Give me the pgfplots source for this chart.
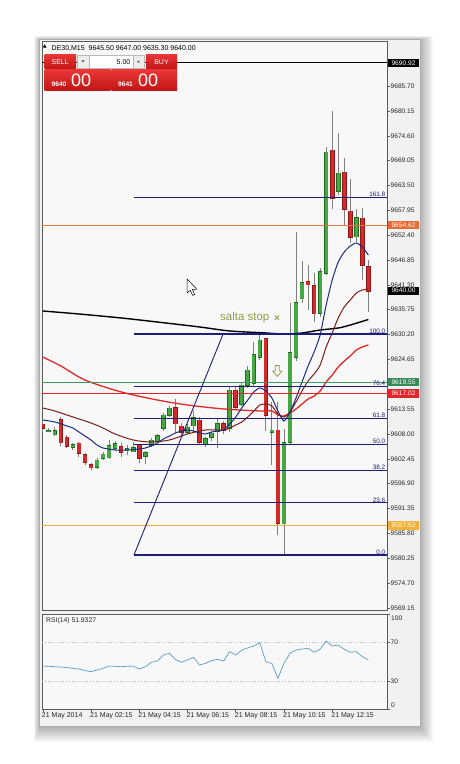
\documentclass[border=0pt]{standalone}
\usepackage{pgfplots}
\pgfplotsset{compat=1.18}
\usepackage{pgfplotstable}
\usepackage{fontspec}
\setmainfont{Liberation Sans}

\definecolor{chartbg}{HTML}{F8F8F8}
\definecolor{winbg}{HTML}{F1F1F1}
\definecolor{frame}{HTML}{5A5A5A}
\definecolor{upfill}{HTML}{45A845}
\definecolor{upedge}{HTML}{1E6B1E}
\definecolor{dnfill}{HTML}{D42A2A}
\definecolor{dnedge}{HTML}{8E1616}
\definecolor{wick}{HTML}{808080}
\definecolor{fastma}{HTML}{1C2B82}
\definecolor{midma}{HTML}{7E1C1C}
\definecolor{slowma}{HTML}{E02828}
\definecolor{fibnavy}{HTML}{1E1E78}
\definecolor{lvlorange}{HTML}{E2763A}
\definecolor{lvlgreen}{HTML}{3D9A62}
\definecolor{lvlred}{HTML}{E3242B}
\definecolor{lvlgold}{HTML}{F2B23A}
\definecolor{note}{HTML}{8E9E48}
\definecolor{rsiline}{HTML}{5B9BD0}
\definecolor{btntop}{HTML}{EA3636}
\definecolor{btnbot}{HTML}{C01616}

% DE30 M15 bars: index (0 = 02:15), open, high, low, close
\pgfplotstableread{
i o h l c
-8 9610.22 9611.11 9608.43 9609.32
-7 9608.65 9609.32 9608.43 9608.87
-6 9607.98 9609.55 9607.53 9608.87
-5 9611.33 9611.78 9605.30 9606.19
-4 9607.31 9607.76 9604.85 9605.30
-3 9605.08 9605.97 9604.40 9605.52
-2 9605.97 9606.42 9603.07 9603.73
-1 9603.29 9603.96 9601.28 9601.73
0 9601.28 9601.73 9600.16 9600.61
1 9600.61 9602.62 9600.16 9602.17
2 9602.62 9603.96 9602.17 9603.51
3 9602.84 9606.64 9602.40 9605.52
4 9604.85 9606.64 9604.40 9605.75
5 9605.08 9606.19 9603.07 9603.96
6 9604.40 9605.75 9603.51 9604.63
7 9604.18 9606.19 9603.96 9605.08
8 9605.52 9605.97 9601.73 9602.62
9 9603.07 9604.40 9601.50 9603.96
10 9605.52 9607.09 9605.08 9606.64
11 9606.42 9607.98 9605.97 9607.53
12 9609.32 9612.89 9608.87 9612.22
13 9612.22 9614.24 9611.78 9613.79
14 9614.01 9615.80 9608.20 9610.44
15 9609.77 9610.66 9607.76 9608.43
16 9608.43 9610.22 9607.98 9609.55
17 9609.99 9613.34 9608.43 9611.78
18 9611.11 9611.78 9605.75 9606.19
19 9605.75 9607.53 9605.30 9607.09
20 9607.31 9608.65 9606.64 9608.20
21 9608.65 9611.56 9604.85 9610.22
22 9610.44 9611.11 9608.20 9608.87
23 9609.32 9618.70 9608.43 9617.81
24 9617.81 9618.70 9613.34 9614.01
25 9614.68 9619.60 9614.24 9618.93
26 9618.93 9623.17 9618.26 9622.28
27 9619.37 9628.53 9618.70 9625.63
28 9625.18 9630.10 9624.51 9628.98
29 9629.20 9629.65 9608.87 9612.22
30 9608.43 9615.13 9601.05 9608.87
31 9608.87 9615.13 9585.42 9588.10
32 9588.10 9609.32 9580.95 9606.19
33 9606.19 9637.25 9605.52 9626.08
34 9625.18 9653.11 9624.51 9637.25
35 9638.37 9646.85 9637.47 9641.94
36 9642.16 9645.74 9635.68 9641.49
37 9641.27 9643.95 9632.99 9635.01
38 9635.01 9645.29 9634.34 9644.17
39 9643.95 9672.10 9643.50 9670.98
40 9671.43 9680.37 9658.47 9660.70
41 9662.27 9675.23 9661.37 9666.29
42 9666.51 9669.64 9654.45 9658.25
43 9657.80 9665.17 9650.87 9651.99
44 9652.21 9658.25 9650.87 9656.46
45 9656.24 9658.47 9642.38 9645.74
46 9645.50 9647.00 9635.30 9640.00
}\candles

% RSI(14)
\pgfplotstableread{
i v
-8 45.5
-7 45.2
-6 44.8
-5 44.5
-4 43.9
-3 43.1
-2 42.3
-1 40.9
0 39.6
1 41.4
2 43.1
3 45.5
4 45.2
5 44.8
6 45.2
7 45.5
8 42.4
9 44.8
10 49.4
11 50.8
12 57.0
13 58.8
14 52.5
15 49.4
16 51.9
17 54.6
18 46.6
19 48.3
20 51.2
21 52.5
22 50.8
23 60.6
24 57.0
25 62.3
26 64.5
27 66.5
28 70.0
29 50.1
30 48.3
31 32.6
32 48.3
33 58.8
34 62.3
35 63.3
36 64.1
37 59.9
38 63.3
39 71.7
40 66.5
41 67.5
42 63.0
43 59.9
44 60.6
45 55.3
46 51.93
}\rsi

\tikzset{
  pricebox/.style={anchor=west, text=white, font=\fontsize{6.6}{7}\selectfont,
    text height=4.9pt, text depth=0.3pt, inner xsep=2.2pt, inner ysep=1.5pt,
    minimum width=31pt, xshift=0.8pt},
  fiblabel/.style={anchor=south east, text=fibnavy, font=\fontsize{6.4}{7}\selectfont,
    inner sep=0.5pt, xshift=-1pt}
}
\pgfplotsset{
  candle/.style={draw=none, mark=none,
    error bars/y dir=both, error bars/y explicit, error bars/error mark=none}
}

\begin{document}
\begin{tikzpicture}
\useasboundingbox (0pt,0pt) rectangle (459pt,764pt);

% window with soft drop shadow
\begin{scope}[x=1pt,y=-1pt,shift={(0pt,764pt)}]
  \fill[white] (0,0) rectangle (459,764);
  \foreach \k in {1,...,10}{
    \fill[black,opacity=0.03,rounded corners=2pt] (40-0.6*\k,40-0.4*\k) rectangle (420+1.3*\k,727+1.5*\k);
  }
  \fill[winbg] (39.5,39.5) rectangle (420.5,726.5);
  \draw[gray!65,line width=0.6pt] (39.5,39.5) rectangle (420.5,726.5);
\end{scope}

% ---------------- price panel ----------------
\begin{axis}[
  at={(42pt,154pt)}, anchor=south west,
  width=345pt, height=569pt, scale only axis,
  xmin=-8.126, xmax=49.088, ymin=9568.66, ymax=9695.78,
  axis background/.style={fill=chartbg},
  axis line style={draw=frame, line width=0.7pt},
  xtick=\empty,
  ytick={9569.15,9574.70,9580.25,9585.80,9591.35,9596.90,9602.45,9608.00,9613.55,9619.10,9624.65,9630.20,9635.75,9641.30,9646.85,9652.40,9657.95,9663.50,9669.05,9674.60,9680.15,9685.70},
  yticklabels={9569.15,9574.70,9580.25,9585.80,9591.35,9596.90,9602.45,9608.00,9613.55,,9624.65,9630.20,9635.75,9641.30,9646.85,9652.40,9657.95,9663.50,9669.05,9674.60,9680.15,9685.70},
  ytick pos=right, yticklabel pos=right,
  tick align=outside, major tick length=2.5pt,
  tick style={draw=frame, line width=0.5pt},
  yticklabel style={font=\fontsize{6.6}{7}\selectfont, text=black!85, anchor=west, inner sep=0pt, xshift=1pt},
  clip mode=individual,
]
% wicks
\addplot[candle, error bars/error bar style={draw=wick, line width=0.9pt}]
  table[x=i, y expr={(\thisrow{h}+\thisrow{l})/2}, y error expr={(\thisrow{h}-\thisrow{l})/2}] {\candles};
% bullish bodies
\addplot[candle, restrict expr to domain={\thisrow{c}-\thisrow{o}}{0:1000},
  error bars/error bar style={draw=upedge, line width=4.6pt}]
  table[x=i, y expr={(\thisrow{o}+\thisrow{c})/2}, y error expr={abs(\thisrow{c}-\thisrow{o})/2+0.15}] {\candles};
\addplot[candle, restrict expr to domain={\thisrow{c}-\thisrow{o}}{0:1000},
  error bars/error bar style={draw=upfill, line width=3.2pt}]
  table[x=i, y expr={(\thisrow{o}+\thisrow{c})/2}, y error expr={abs(\thisrow{c}-\thisrow{o})/2}] {\candles};
% bearish bodies
\addplot[candle, restrict expr to domain={\thisrow{o}-\thisrow{c}}{0.001:1000},
  error bars/error bar style={draw=dnedge, line width=4.6pt}]
  table[x=i, y expr={(\thisrow{o}+\thisrow{c})/2}, y error expr={abs(\thisrow{c}-\thisrow{o})/2+0.15}] {\candles};
\addplot[candle, restrict expr to domain={\thisrow{o}-\thisrow{c}}{0.001:1000},
  error bars/error bar style={draw=dnfill, line width=3.2pt}]
  table[x=i, y expr={(\thisrow{o}+\thisrow{c})/2}, y error expr={abs(\thisrow{c}-\thisrow{o})/2}] {\candles};

% moving averages
\addplot[black, line width=1.4pt, smooth, tension=0.5] coordinates {
(-8,9635.46) (-2,9634.79) (5,9633.90) (11,9633.00) (18,9631.89) (23,9631.00) (29,9630.55)
(32,9630.32) (35,9630.55) (38,9631.21) (41,9631.66) (43,9632.33) (46,9633.56)};
\addplot[slowma, line width=1.3pt, smooth, tension=0.5] coordinates {
(-8,9625.18) (-5,9623.17) (-1,9620.04) (5,9617.37) (11,9615.58) (16,9614.46) (22,9613.57)
(28,9613.12) (30,9613.12) (31,9612.22) (32,9612.00) (33,9612.67) (34,9613.57) (35,9614.68)
(36,9615.80) (37,9616.47) (38,9617.59) (39,9619.60) (40,9621.16) (41,9622.95) (42,9624.29)
(43,9625.41) (44,9626.75) (45,9627.42) (46,9627.87)};
\addplot[midma, line width=1pt, smooth, tension=0.5] coordinates {
(-8,9613.79) (-6,9613.12) (-3,9611.78) (0,9610.44) (2,9609.32) (4,9607.98) (7,9606.64)
(10,9606.19) (13,9606.64) (16,9607.98) (19,9608.87) (22,9608.87) (23,9609.32) (24,9609.99)
(25,9610.66) (26,9611.78) (27,9613.12) (28,9614.46) (29,9614.68) (30,9614.24) (31,9612.45)
(32,9611.78) (33,9612.89) (34,9615.13) (35,9617.59) (36,9619.82) (37,9621.38) (38,9623.40)
(39,9627.42) (40,9630.55) (41,9633.90) (42,9636.36) (43,9637.92) (44,9639.48) (45,9640.15)
(46,9640.38)};
\addplot[fastma, line width=1pt, smooth, tension=0.4] coordinates {
(-8,9611.11) (-6,9610.66) (-4,9609.77) (-3,9609.32) (-2,9608.43) (-1,9607.53) (0,9606.64)
(1,9605.52) (2,9604.85) (3,9604.63) (4,9604.40) (6,9604.40) (8,9604.63) (9,9604.85)
(10,9605.30) (11,9605.97) (12,9606.86) (13,9607.53) (14,9608.20) (15,9608.65) (16,9608.87)
(17,9608.65) (18,9608.20) (19,9607.98) (20,9608.43) (21,9608.65) (22,9608.87) (23,9610.22)
(24,9611.78) (25,9613.79) (26,9615.58) (27,9617.37) (28,9618.26) (29,9617.59) (30,9616.02)
(31,9613.12) (32,9610.88) (33,9612.89) (34,9616.02) (35,9619.60) (36,9623.17) (37,9626.30)
(38,9630.10) (39,9636.80) (40,9642.38) (41,9646.41) (42,9648.64) (43,9649.98) (44,9650.65)
(45,9649.76) (46,9647.97)};

% horizontal price levels
\addplot[black, line width=0.8pt] coordinates {(-8.126,9690.92) (49.088,9690.92)};
\addplot[lvlorange, line width=1.1pt] coordinates {(-8.126,9654.62) (49.088,9654.62)};
\addplot[lvlgreen, line width=1.1pt] coordinates {(-8.126,9619.55) (49.088,9619.55)};
\addplot[lvlred, line width=1.4pt] coordinates {(-8.126,9617.02) (49.088,9617.02)};
\addplot[lvlgold, line width=1.1pt] coordinates {(-8.126,9587.52) (49.088,9587.52)};

% Fibonacci retracement 9580.95 -> 9630.32
\pgfplotsinvokeforeach{9580.95,9592.60,9599.81,9605.64,9611.46,9618.67,9630.32,9660.83}{
  \addplot[fibnavy, line width=1.1pt] coordinates {(7.13,#1) (49.088,#1)};
}
\addplot[fibnavy, line width=0.9pt] coordinates {(7.13,9580.95) (21.9,9630.32)};
\node[fiblabel] at (axis cs:49.088,9660.83) {161.8};
\node[fiblabel] at (axis cs:49.088,9630.32) {100.0};
\node[fiblabel] at (axis cs:49.088,9618.67) {76.4};
\node[fiblabel] at (axis cs:49.088,9611.46) {61.8};
\node[fiblabel] at (axis cs:49.088,9605.64) {50.0};
\node[fiblabel] at (axis cs:49.088,9599.81) {38.2};
\node[fiblabel] at (axis cs:49.088,9592.60) {23.6};
\node[fiblabel] at (axis cs:49.088,9580.95) {0.0};

% text note and arrow
\node[anchor=base west, text=note, font=\fontsize{11.5}{12}\selectfont, inner sep=0pt]
  at (axis cs:21.39,9633.23) {salta stop};
\node[text=note, font=\bfseries\fontsize{10}{10}\selectfont, inner sep=0pt]
  at (axis cs:30.85,9633.67) {×};
\coordinate (arrowpt) at (axis cs:30.9,9622.06);

\coordinate (b1) at (axis cs:49.088,9690.92);
\coordinate (b2) at (axis cs:49.088,9654.62);
\coordinate (b3) at (axis cs:49.088,9640.00);
\coordinate (b4) at (axis cs:49.088,9619.55);
\coordinate (b5) at (axis cs:49.088,9617.02);
\coordinate (b6) at (axis cs:49.088,9587.52);
\end{axis}

% price tags on the scale
\node[pricebox, fill=black] at (b1) {9690.92};
\node[pricebox, fill=lvlorange!90!red] at (b2) {9654.62};
\node[pricebox, fill=black] at (b3) {9640.00};
\node[pricebox, fill=lvlgreen!90!black] at (b4) {9619.55};
\node[pricebox, fill=lvlred] at (b5) {9617.02};
\node[pricebox, fill=lvlgold, text=white!92!yellow] at (b6) {9587.52};

% hollow down arrow
\begin{scope}[shift={(arrowpt)}]
  \draw[note, line width=0.8pt, line join=miter]
    (-2pt,5.5pt) -- (2pt,5.5pt) -- (2pt,0pt) -- (4.6pt,0pt) -- (0pt,-5.5pt) -- (-4.6pt,0pt) -- (-2pt,0pt) -- cycle;
\end{scope}

% ---------------- RSI panel ----------------
\begin{axis}[
  at={(42pt,54.5pt)}, anchor=south west,
  width=345pt, height=95.5pt, scale only axis,
  xmin=-8.126, xmax=49.088, ymin=0, ymax=100,
  axis background/.style={fill=chartbg},
  axis line style={draw=frame, line width=0.7pt},
  xtick={-8,0,8,16,24,32,40},
  xticklabels={21 May 2014,21 May 02:15,21 May 04:15,21 May 06:15,21 May 08:15,21 May 10:15,21 May 12:15},
  xtick pos=bottom, ytick pos=right, yticklabel pos=right,
  ytick={0,30,70,100}, yticklabels={,30,70,},
  tick align=outside, major tick length=2.5pt,
  tick style={draw=frame, line width=0.5pt},
  xticklabel style={font=\fontsize{7}{8}\selectfont, text=black!85, anchor=north west, inner sep=0pt, xshift=-1pt},
  yticklabel style={font=\fontsize{6.6}{7}\selectfont, text=black!85, anchor=west, inner sep=0pt, xshift=1pt},
  clip mode=individual,
]
\draw[gray!55, dash pattern=on 1pt off 2pt] (axis cs:-8.126,70) -- (axis cs:49.088,70);
\draw[gray!55, dash pattern=on 1pt off 2pt] (axis cs:-8.126,30) -- (axis cs:49.088,30);
\addplot[rsiline, line width=0.7pt] table[x=i, y=v] {\rsi};
\node[anchor=north west, font=\fontsize{6.8}{7}\selectfont, inner sep=0pt, text=black!85]
  at (rel axis cs:0,1) [xshift=4pt, yshift=-3pt] {RSI(14) 51.9327};
\node[anchor=north west, font=\fontsize{6.6}{7}\selectfont, inner sep=0pt, text=black!85]
  at (rel axis cs:1,1) [xshift=4pt, yshift=-2pt] {100};
\node[anchor=south west, font=\fontsize{6.6}{7}\selectfont, inner sep=0pt, text=black!85]
  at (rel axis cs:1,0) [xshift=4pt, yshift=2pt] {0};
\end{axis}

% ---------------- header and one-click trading panel ----------------
\begin{scope}[x=1pt,y=-1pt,shift={(0pt,764pt)}]
  \fill[black] (42.8,47.6) -- (46.6,47.6) -- (44.7,44.4) -- cycle;
  \node[anchor=base west, font=\fontsize{7}{8}\selectfont, inner sep=0pt] at (51.5,51)
    {DE30,M15\ \ 9645.50 9647.00 9635.30 9640.00};
  % SELL / BUY buttons
  \shade[top color=btntop, bottom color=btnbot] (44.5,54.5) rectangle (76,69);
  \node[text=white, font=\fontsize{7}{8}\selectfont] at (60.2,61.8) {SELL};
  \shade[top color=btntop, bottom color=btnbot] (146,54.5) rectangle (177,69);
  \node[text=white, font=\fontsize{7}{8}\selectfont] at (161.5,61.8) {BUY};
  % volume spinner
  \filldraw[fill=gray!15, draw=gray!55, line width=0.4pt] (77,55) rectangle (89.5,68.5);
  \fill[gray!60!black] (81.5,60.5) -- (84.5,60.5) -- (83,62.5) -- cycle;
  \filldraw[fill=white, draw=gray!55, line width=0.4pt] (89.5,55) rectangle (133,68.5);
  \node[anchor=east, font=\fontsize{7}{8}\selectfont, inner sep=0pt] at (130.5,61.8) {5.00};
  \filldraw[fill=gray!15, draw=gray!55, line width=0.4pt] (133,55) rectangle (144,68.5);
  \fill[gray!60!black] (137,62.5) -- (140,62.5) -- (138.5,60.5) -- cycle;
  % bid / ask boxes
  \shade[top color=btntop, bottom color=btnbot] (44.5,69.5) rectangle (110.5,91);
  \shade[top color=btntop, bottom color=btnbot] (111.5,69.5) rectangle (177,91);
  \node[anchor=base west, text=white, font=\bfseries\fontsize{6.6}{7}\selectfont, inner sep=0pt] at (51.5,86.5) {9640};
  \node[anchor=base west, text=white, font=\fontsize{18}{18}\selectfont, inner sep=0pt] at (71,86.8) {00};
  \node[anchor=base west, text=white, font=\bfseries\fontsize{6.6}{7}\selectfont, inner sep=0pt] at (118,86.5) {9641};
  \node[anchor=base west, text=white, font=\fontsize{18}{18}\selectfont, inner sep=0pt] at (138,86.8) {00};
  % mouse pointer
  \filldraw[fill=white, draw=black, line width=0.5pt, line join=miter]
    (187,279) -- (187,293) -- (190.3,290.2) -- (192.6,295.4) -- (194.6,294.5) -- (192.4,289.4) -- (196.8,289.2) -- cycle;
\end{scope}
\end{tikzpicture}
\end{document}
